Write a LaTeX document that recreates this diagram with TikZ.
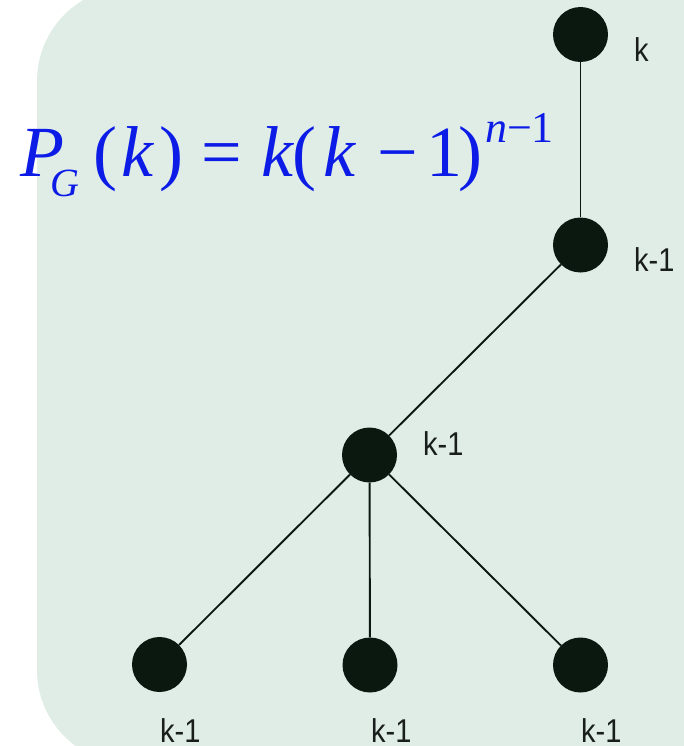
\documentclass[tikz,border=0pt]{standalone}
\usepackage{fontspec}
\usepackage{graphicx}
\setmainfont{Liberation Serif}
\newfontfamily\lblfont{Liberation Sans}
\definecolor{bgc}{RGB}{223,237,230}
\definecolor{dotc}{RGB}{10,24,16}
\definecolor{fblue}{RGB}{12,28,230}
\definecolor{lblc}{RGB}{25,30,28}
\begin{document}
\begin{tikzpicture}[x=1pt,y=-1pt,
  dot/.style={circle,fill=dotc,minimum size=55pt,inner sep=0pt},
  lbl/.style={font=\lblfont\fontsize{33}{33}\selectfont,text=lblc,inner sep=0pt,anchor=base west},
  edgeline/.style={draw=dotc,line width=1.9pt}]
\useasboundingbox (0,0) rectangle (684,746);
\begin{scope}
\clip (0,0) rectangle (684,746);
\fill[bgc,rounded corners=94pt] (37,-13) rectangle (780,764);
\end{scope}
\node[dot] (a) at (580.5,34.5) {};
\node[dot] (b) at (580.5,245) {};
\node[dot] (c) at (369.5,455) {};
\node[dot] (d) at (159.5,664.5) {};
\node[dot] (e) at (370,665) {};
\node[dot] (f) at (580.5,665) {};
\draw[edgeline] (a) -- (b);
\draw[edgeline] (b) -- (c);
\draw[edgeline] (c) -- (d);
\draw[edgeline] (c) -- (e);
\draw[edgeline] (c) -- (f);
\node[lbl] (la) at (634,62) {\scalebox{0.88}[1]{k}};
\node[lbl] (lb) at (634,271) {\scalebox{0.88}[1]{k-1}};
\node[lbl] (lc) at (423,455) {\scalebox{0.88}[1]{k-1}};
\node[lbl] (ld) at (160,742) {\scalebox{0.88}[1]{k-1}};
\node[lbl] (le) at (371,742) {\scalebox{0.88}[1]{k-1}};
\node[lbl] (lf) at (581,742) {\scalebox{0.88}[1]{k-1}};
\node[anchor=base west,inner sep=0pt,text=fblue,font=\fontsize{72}{72}\selectfont] (formula) at (20,177)
  {\itshape P\kern-14pt\raisebox{-20pt}{\fontsize{40}{40}\selectfont G}\kern14pt\upshape(\kern4pt\itshape k\kern6pt\upshape)\kern19pt=\kern19pt\itshape k\kern-1pt\upshape(\kern7pt\itshape k\kern22pt\upshape−\kern8pt1\kern-4pt)\kern3pt\raisebox{34pt}{\fontsize{44}{44}\selectfont\itshape n\upshape−1}};
\end{tikzpicture}
\end{document}
